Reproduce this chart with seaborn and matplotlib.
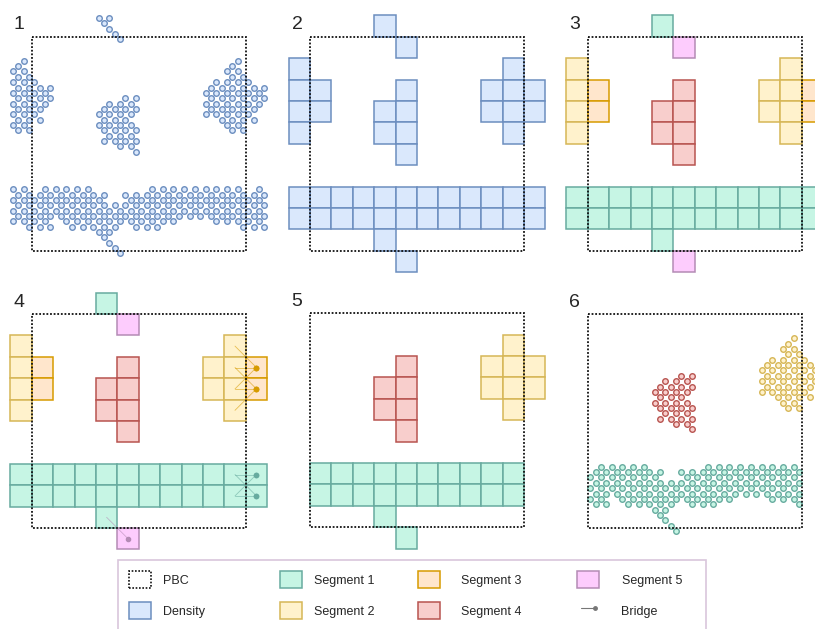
import numpy as np
import seaborn as sns
import matplotlib.pyplot as plt
from matplotlib.patches import Patch, Rectangle
from matplotlib.lines import Line2D
from matplotlib.legend_handler import HandlerLine2D

sns.set_theme(style="white")
plt.rcParams['font.family'] = ['Liberation Sans', 'DejaVu Sans']

# fill / edge colours
colors = {
    "D": ("#dae8fc", "#6c8ebf"),
    "1": ("#c6f5e4", "#67ab9f"),
    "2": ("#fff2cc", "#d6b656"),
    "3": ("#ffe6cc", "#d79b00"),
    "4": ("#f8cecc", "#b85450"),
    "5": ("#fdccfd", "#b48bb5"),
}

# coarse grid, one char per cell (digit = segment), periodic unit cell 10x10
cell_map = [
    "....5.....",
    ".........2",
    "3...4...22",
    "3..44...22",
    "...44....2",
    "....4.....",
    "..........",
    "1111111111",
    "1111111111",
    "...1......",
]

# rebuilt structure (panel 5), not periodic
rebuilt_map = [
    "...........",
    ".........2.",
    "....4...222",
    "...44...222",
    "...44....2.",
    "....4......",
    "...........",
    "1111111111.",
    "1111111111.",
    "...1.......",
    "....1......",
]

# bridges (panel 4): from cell -> to cell (dot at the "to" end)
bridge_from = [(9, 1), (9, 2), (9, 3), (9, 2), (9, 3), (9, 4), (9, 7), (9, 8), (9, 7), (9, 8), (3, 9)]
bridge_to = [(10, 2), (10, 2), (10, 2), (10, 3), (10, 3), (10, 3), (10, 7), (10, 7), (10, 8), (10, 8), (4, 10)]
bridge_seg = ["3", "3", "3", "3", "3", "3", "1", "1", "1", "1", "5"]

# fine lattice (4 sites per cell), row j -> runs (first, last) of every 2nd site
seg1_spans = {
    28: [(2, 10), (22, 38)],
    29: [(1, 13), (17, 39)],
    30: [(0, 12), (18, 38)],
    31: [(1, 39)],
    32: [(0, 38)],
    33: [(1, 39)],
    34: [(0, 2), (6, 26), (34, 38)],
    35: [(1, 3), (7, 15), (19, 23), (39, 39)],
    36: [(12, 14)],
    37: [(13, 13)],
    38: [(14, 14)],
    39: [(15, 15)],
    40: [(16, 16)],
}
seg2_spans = {
    4: [(38, 38)],
    5: [(37, 37)],
    6: [(36, 38)],
    7: [(37, 39)],
    8: [(34, 40)],
    9: [(33, 43)],
    10: [(32, 42)],
    11: [(33, 43)],
    12: [(32, 42)],
    13: [(33, 41)],
    14: [(32, 40)],
    15: [(35, 41)],
    16: [(36, 38)],
    17: [(37, 39)],
}
seg4_spans = {
    11: [(17, 19)],
    12: [(14, 18)],
    13: [(13, 19)],
    14: [(12, 18)],
    15: [(13, 17)],
    16: [(12, 18)],
    17: [(13, 19)],
    18: [(14, 18)],
    19: [(13, 19)],
    20: [(16, 18)],
    21: [(19, 19)],
}


def sites(spans):
    pts = []
    for j, runs in spans.items():
        for a, b in runs:
            for i in range(a, b + 1, 2):
                pts.append((i, j))
    return pts


def images(pts, period, lo, hi):
    out = []
    for i, j in pts:
        for a in (-1, 0, 1):
            for b in (-1, 0, 1):
                ii, jj = i + a * period, j + b * period
                if lo <= ii <= hi and lo <= jj <= hi:
                    out.append((ii, jj))
    return out


def cells_of(grid):
    out = {}
    for r, row in enumerate(grid):
        for c, ch in enumerate(row):
            if ch != ".":
                out.setdefault(ch, []).append((c, r))
    return out


def draw_cells(ax, cells, key):
    if not cells:
        return
    fc, ec = colors[key]
    xs = [c for c, r in cells]
    ys = [r for c, r in cells]
    ax.bar(xs, 1, width=1, bottom=ys, align="edge", color=fc, edgecolor=ec, linewidth=1.1)


def draw_sites(ax, pts, key):
    fc, ec = colors[key]
    xs = np.array([(i + 0.5) / 4 for i, j in pts])
    ys = np.array([(j + 0.5) / 4 for i, j in pts])
    sns.scatterplot(x=xs, y=ys, ax=ax, s=16, color=fc, edgecolor=ec, linewidth=1.0, legend=False)


class BridgeHandler(HandlerLine2D):
    # dot only at the right end of the legend line
    def create_artists(self, legend, orig_handle, xdescent, ydescent, width, height, fontsize, trans):
        arts = super().create_artists(legend, orig_handle, xdescent, ydescent, width, height, fontsize, trans)
        line = arts[0]
        x = np.asarray(line.get_xdata(), float)
        y = np.asarray(line.get_ydata(), float)
        line.set_data([x[0], x[-1]], [y[0], y[0]])
        line.set_markevery([1])
        return arts


W, H, C = 815, 629, 21.4
box_px = [(31.7, 36.7), (310, 36.7), (587.7, 36.7), (31.7, 314), (310, 313.3), (587.7, 314.3)]

fig = plt.figure(figsize=(8.15, 6.29), dpi=100)
axes = []
for n, (bx, by) in enumerate(box_px):
    ax = fig.add_axes([(bx - 1.5 * C) / W, 1 - (by + 11.5 * C) / H, 13 * C / W, 13 * C / H])
    axes.append(ax)

unit = cells_of(cell_map)
order = ["2", "3", "4", "1", "5"]

# 1: density as beads
for spans in (seg1_spans, seg2_spans, seg4_spans):
    draw_sites(axes[0], images(sites(spans), 40, -4, 43), "D")

# 2: density on grid
dens = []
for k in order:
    dens += images(unit[k], 10, -1, 10)
draw_cells(axes[1], dens, "D")

# 3 and 4: segments
for ax in (axes[2], axes[3]):
    for k in order:
        draw_cells(ax, images(unit[k], 10, -1, 10), k)

# 4: bridges
for (c0, r0), (c1, r1), k in zip(bridge_from, bridge_to, bridge_seg):
    ec = colors[k][1]
    axes[3].plot([c0 + 0.5, c1 + 0.5], [r0 + 0.5, r1 + 0.5], color=ec, lw=0.6, alpha=0.6, zorder=4)
    axes[3].plot([c1 + 0.5], [r1 + 0.5], "o", color=ec, ms=3, zorder=5)

# 5: rebuilt
rebuilt = cells_of(rebuilt_map)
for k in ["2", "4", "1"]:
    draw_cells(axes[4], rebuilt[k], k)

# 6: rebuilt beads
draw_sites(axes[5], sites(seg4_spans), "4")
draw_sites(axes[5], sites(seg2_spans), "2")
draw_sites(axes[5], sites(seg1_spans), "1")

for n, ax in enumerate(axes):
    ax.add_patch(Rectangle((0, 0), 10, 10, fill=False, ec="#111111", lw=1.3, ls=(0, (1, 1)), zorder=6))
    ax.text(-0.6, -0.55, str(n + 1), fontsize=14, ha="center", va="center")
    ax.set_xlim(-1.5, 11.5)
    ax.set_ylim(11.5, -1.5)
    ax.axis("off")

# legend: (label, handle, icon left px, icon top px, text pad)
leg_items = [
    ("PBC", Patch(fill=False, ec="#111111", lw=1.2, ls=(0, (1, 1))), 129, 571, 0.95),
    ("Density", Patch(fc=colors["D"][0], ec=colors["D"][1], lw=1.1), 129, 602, 0.95),
    ("Segment 1", Patch(fc=colors["1"][0], ec=colors["1"][1], lw=1.1), 280, 571, 0.95),
    ("Segment 2", Patch(fc=colors["2"][0], ec=colors["2"][1], lw=1.1), 280, 602, 0.95),
    ("Segment 3", Patch(fc=colors["3"][0], ec=colors["3"][1], lw=1.1), 418, 571, 1.7),
    ("Segment 4", Patch(fc=colors["4"][0], ec=colors["4"][1], lw=1.1), 418, 602, 1.7),
    ("Segment 5", Patch(fc=colors["5"][0], ec=colors["5"][1], lw=1.1), 577, 571, 1.8),
    ("Bridge", Line2D([0], [0], color="#777777", lw=0.8, marker="o", ms=2.5), 577, 602, 1.8),
]
fs = 9
hs = 22 / (fs * 100 / 72)
for label, h, x, y, pad in leg_items:
    fig.legend([h], [label], loc="upper left", bbox_to_anchor=(x / W, 1 - y / H), frameon=False,
               borderpad=0, borderaxespad=0, fontsize=fs, numpoints=2,
               handler_map={Line2D: BridgeHandler()},
               handlelength=hs, handleheight=hs, handletextpad=pad)

fig.add_artist(Rectangle((118 / W, -0.01), (706 - 118) / W, 1 - 560 / H + 0.01, transform=fig.transFigure,
                         fill=False, ec="#d9c6dc", lw=1.2))

fig.savefig("out.png", dpi=100)
